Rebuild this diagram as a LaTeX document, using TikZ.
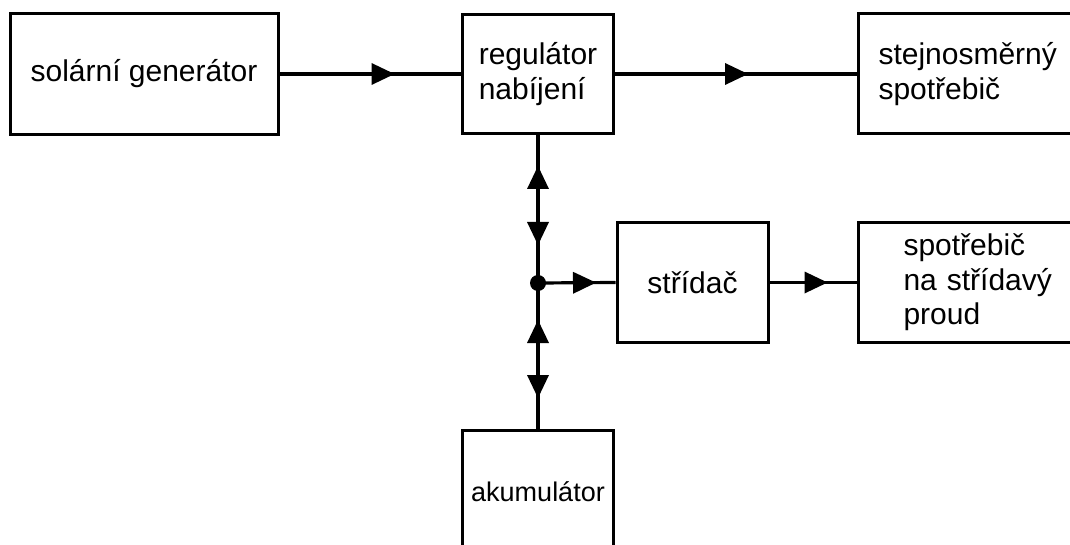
\documentclass[tikz,border=0pt]{standalone}
\usepackage{fontspec}
\setmainfont{Liberation Sans}
\usetikzlibrary{decorations.markings}

\tikzset{
  blk/.style={draw, line width=3pt, rectangle, inner sep=0pt,
    font=\fontsize{30}{34.5}\selectfont, align=left},
  conn/.style={line width=3.2pt},
  % filled triangle pointing along the path, base at distance #1
  fwdtip/.style={postaction={decorate, decoration={markings,
    mark=at position #1 with {\fill (0pt,-11pt) -- (23pt,0pt) -- (0pt,11pt) -- cycle;}}}},
  % filled triangle pointing against the path, base at distance #1
  backtip/.style={postaction={decorate, decoration={markings,
    mark=at position #1 with {\fill (0pt,-11pt) -- (-23pt,0pt) -- (0pt,11pt) -- cycle;}}}},
  dot/.style={circle, fill, inner sep=0pt, minimum size=16pt}
}

\begin{document}
\begin{tikzpicture}[x=1pt, y=-1pt]
  \useasboundingbox (0,0) rectangle (1070,545);
  \clip (0,0) rectangle (1070,545);
  \fill[white] (0,0) rectangle (1070,545);

  % blocks
  \node[blk, minimum width=268pt, minimum height=121pt] (gen) at (144,74) {solární generátor};
  \node[blk, minimum width=151pt, minimum height=119pt] (reg) at (538,74) {regulátor\\nabíjení};
  \node[blk, anchor=west, minimum height=120pt, inner xsep=20pt, text width=200pt] (dc) at (857,74)
    {stejnosměrný\\spotřebič};
  \node[blk, minimum width=151pt, minimum height=119pt] (inv) at (692.5,282.5) {střídač};
  \node[blk, anchor=west, minimum height=119pt, inner xsep=45pt, text width=160pt] (ac) at (857,282.5)
    {spotřebič\\na střídavý\\proud};
  \node[blk, anchor=north, minimum width=151pt, minimum height=122pt,
    font=\fontsize{27}{31}\selectfont] (bat) at (538,429) {akumulátor};

  % junction point
  \node[dot] (j) at (538,283) {};

  % connectors
  \draw[conn, fwdtip=92pt] (gen.east) -- (reg.west);
  \draw[conn, fwdtip=110pt] (reg.east) -- (dc.west);
  \draw[conn, backtip=54pt, fwdtip=87pt, backtip=208pt, fwdtip=240pt] (reg.south) -- (bat.north);
  \draw[conn, fwdtip=35pt] (j.center) -- (inv.west);
  \draw[conn, fwdtip=35pt] (inv.east) -- (ac.west);
\end{tikzpicture}
\end{document}
